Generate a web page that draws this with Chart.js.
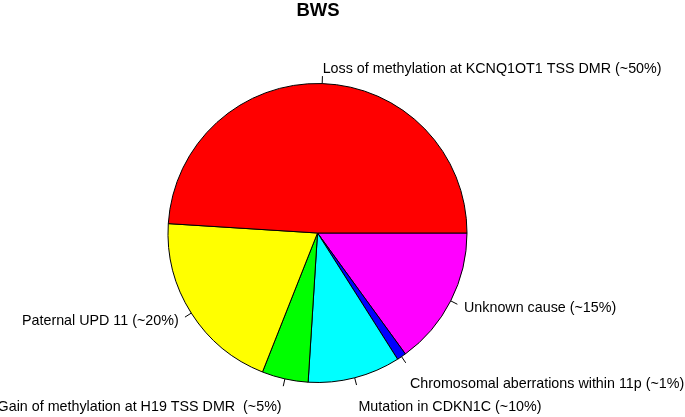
<!DOCTYPE html>
<html>
<head>
<meta charset="utf-8">
<script src="https://cdn.jsdelivr.net/npm/chart.js@4/dist/chart.umd.min.js"></script>
<style>
  html, body { margin: 0; padding: 0; background: #ffffff; }
  canvas { display: block; }
</style>
</head>
<body>
<canvas id="bwsChart" width="685" height="417"></canvas>
<script>
// Slice data, in the order R draws them (counter-clockwise from 3 o'clock)
const causes = [
    'Loss of methylation at KCNQ1OT1 TSS DMR (~50%)',
    'Paternal UPD 11 (~20%)',
    'Gain of methylation at H19 TSS DMR  (~5%)',
    'Mutation in CDKN1C (~10%)',
    'Chromosomal aberrations within 11p (~1%)',
    'Unknown cause (~15%)'
];
const shares = [49, 20, 5, 10, 1, 15];
const sliceColors = ['#FF0000', '#FFFF00', '#00FF00', '#00FFFF', '#0000FF', '#FF00FF'];

// extra vertical shift for the bottom labels (layout only)
const labelShift = [0, 0, 14, 15, 15, 0];

const FONT = '"Liberation Sans", Arial, Helvetica, sans-serif';

// Chart.js goes clockwise, so feed the slices reversed and start at 3 o'clock
const order = causes.map((_, i) => i).reverse();

const pieLabels = {
    id: 'pieLabels',
    afterDraw(chart) {
        const ctx = chart.ctx;
        const arcs = chart.getDatasetMeta(0).data;

        ctx.save();
        // title
        ctx.fillStyle = '#000';
        ctx.font = 'bold 18.5px ' + FONT;
        ctx.textAlign = 'center';
        ctx.textBaseline = 'alphabetic';
        ctx.fillText('BWS', 318, 16);

        ctx.font = '14.3px ' + FONT;
        ctx.textBaseline = 'middle';
        ctx.strokeStyle = '#000';
        ctx.lineWidth = 1;

        arcs.forEach((arc, j) => {
            const i = order[j];
            const mid = (arc.startAngle + arc.endAngle) / 2;
            const r = arc.outerRadius;
            const cx = Math.cos(mid), cy = Math.sin(mid);

            ctx.beginPath();
            ctx.moveTo(arc.x + cx * r, arc.y + cy * r);
            ctx.lineTo(arc.x + cx * r * 1.05, arc.y + cy * r * 1.05);
            ctx.stroke();

            ctx.textAlign = cx < 0 ? 'right' : 'left';
            ctx.fillText(causes[i], arc.x + cx * r * 1.1, arc.y + cy * r * 1.1 + labelShift[i]);
        });
        ctx.restore();
    }
};

const ctx = document.getElementById('bwsChart').getContext('2d');
new Chart(ctx, {
    type: 'pie',
    data: {
        labels: order.map(i => causes[i]),
        datasets: [{
            data: order.map(i => shares[i]),
            backgroundColor: order.map(i => sliceColors[i]),
            borderColor: '#000000',
            borderWidth: 1,
            hoverOffset: 0
        }]
    },
    options: {
        responsive: false,
        animation: false,
        rotation: 90,
        layout: {
            padding: { top: 83, bottom: 34, left: 167.5, right: 217.5 }
        },
        plugins: {
            legend: { display: false },
            title: { display: false },
            tooltip: { enabled: false }
        }
    },
    plugins: [pieLabels]
});
</script>
</body>
</html>
